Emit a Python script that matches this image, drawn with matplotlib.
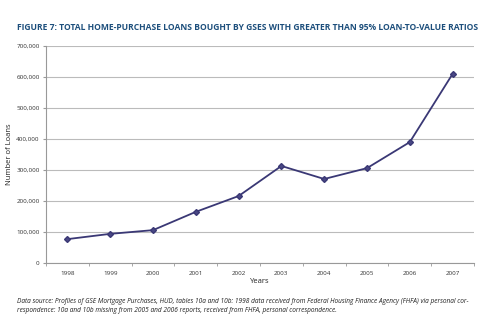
import numpy as np
import matplotlib.pyplot as plt

# Dados
anos = ["1998", "1999", "2000", "2001", "2002", "2003", "2004", "2005", "2006", "2007"]
emprestimos = [77000, 94000, 106000, 165000, 216000, 313000, 271000, 306000, 390000, 610000]
y_ticks = [0, 100000, 200000, 300000, 400000, 500000, 600000, 700000]
y_labels = ["0", "100,000", "200,000", "300,000", "400,000", "500,000", "600,000", "700,000"]

plt.rcParams['font.family'] = ['Open Sans', 'DejaVu Sans']

fig = plt.figure(figsize=(4.99, 3.29), dpi=100)
ax = fig.add_axes([46 / 499, 1 - 263 / 329, 428 / 499, 217 / 329])

x = np.arange(len(anos))
ax.plot(x, emprestimos, color='#3a3875', linewidth=1.3, marker='D', markersize=3,
        markerfacecolor='#4a4885', markeredgecolor='#3a3875')

ax.set_xlim(-0.5, len(anos) - 0.5)
ax.set_ylim(0, 700000)
ax.set_yticks(y_ticks)
ax.set_yticklabels(y_labels, fontsize=4.5, color='#333333')
ax.set_xticks(x)
ax.set_xticklabels(anos, fontsize=4.5, color='#333333')
ax.set_xticks(np.arange(-0.5, len(anos), 1), minor=True)
ax.tick_params(axis='x', which='major', length=0, pad=6)
ax.tick_params(axis='x', which='minor', length=2.5, color='#999999')
ax.tick_params(axis='y', length=2.5, color='#999999', pad=2)

ax.grid(axis='y', color='#bbbbbb', linewidth=0.8)
ax.set_axisbelow(True)
for s in ['top', 'right']:
    ax.spines[s].set_visible(False)
for s in ['left', 'bottom']:
    ax.spines[s].set_color('#999999')
    ax.spines[s].set_linewidth(0.8)

ax.set_xlabel("Years", fontsize=5.5, color='#222222', labelpad=1)
ax.set_ylabel("Number of Loans", fontsize=5.5, color='#222222')
ax.yaxis.set_label_coords(-33 / 428, 0.5)

fig.text(17 / 499, 1 - 27 / 329,
         "FIGURE 7: TOTAL HOME-PURCHASE LOANS BOUGHT BY GSES WITH GREATER THAN 95% LOAN-TO-VALUE RATIOS",
         fontsize=6.15, fontweight='bold', color='#1d4f7c', va='center', ha='left')

fig.text(17 / 499, 1 - 306 / 329,
         "Data source: Profiles of GSE Mortgage Purchases, HUD, tables 10a and 10b: 1998 data received from Federal Housing Finance Agency (FHFA) via personal cor-\n"
         "respondence: 10a and 10b missing from 2005 and 2006 reports, received from FHFA, personal correspondence.",
         fontsize=4.7, style='italic', color='#222222', va='center', ha='left', linespacing=1.5)

plt.savefig("out.png", dpi=100)
